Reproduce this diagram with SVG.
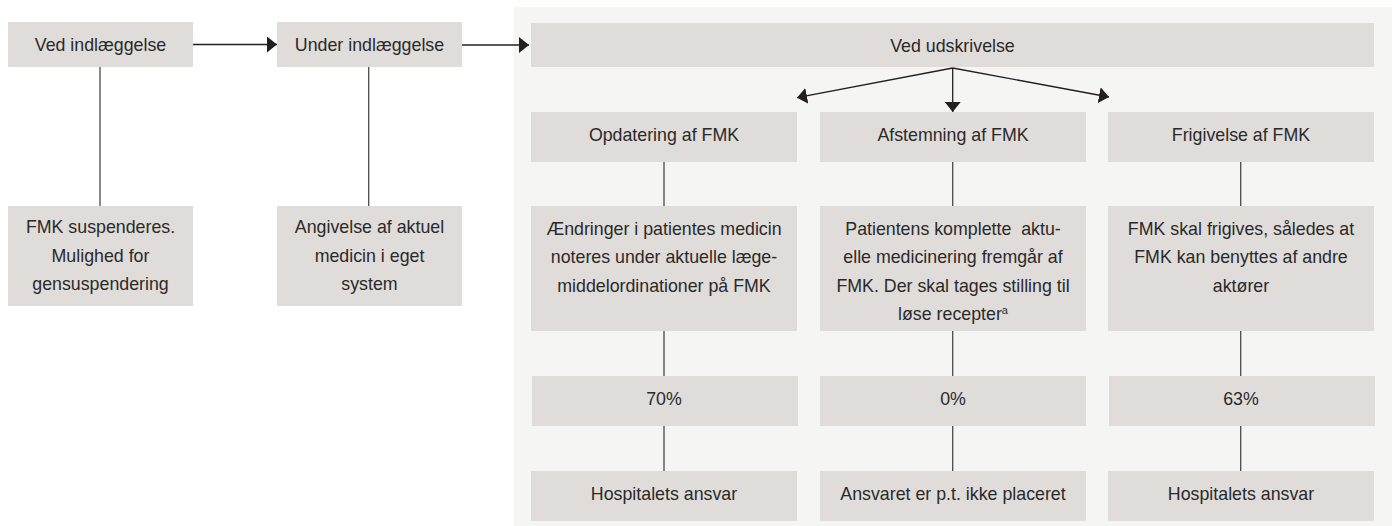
<svg xmlns="http://www.w3.org/2000/svg" width="1392" height="526" viewBox="0 0 1392 526">
<style>
.box{fill:#e0dcd9}
.t{font-family:"Liberation Sans",Arial,sans-serif;font-size:17.8px;fill:#2a2a2a;text-anchor:middle}
.ln{stroke:#4a4a4a;stroke-width:1.3;fill:none}
.ar{stroke:#231f20;stroke-width:1.3;fill:none;marker-end:url(#ah)}
</style>
<defs>
<marker id="ah" viewBox="0 0 10 16" markerUnits="userSpaceOnUse" markerWidth="10" markerHeight="16" refX="10" refY="8" orient="auto">
<path d="M0,0 L10,8 L0,16 z" fill="#231f20"/>
</marker>
</defs>
<rect x="0" y="0" width="1392" height="526" fill="#ffffff"/>
<rect id="panel" x="514" y="7" width="878" height="519" fill="#f5f5f4"/>

<g id="connectors">
<line class="ar" x1="193" y1="44.5" x2="277" y2="44.5"/>
<line class="ar" x1="462" y1="45" x2="529" y2="45"/>
<line class="ar" x1="952.7" y1="68" x2="797" y2="97.7"/>
<line class="ar" x1="952.7" y1="68" x2="952.7" y2="112"/>
<line class="ar" x1="952.7" y1="68" x2="1109" y2="97"/>
<line class="ln" x1="100" y1="67" x2="100" y2="206"/>
<line class="ln" x1="368.7" y1="67" x2="368.7" y2="206"/>
<line class="ln" x1="664" y1="162" x2="664" y2="206"/>
<line class="ln" x1="664" y1="331" x2="664" y2="376"/>
<line class="ln" x1="664" y1="426" x2="664" y2="471"/>
<line class="ln" x1="952.7" y1="162" x2="952.7" y2="206"/>
<line class="ln" x1="952.7" y1="331" x2="952.7" y2="376"/>
<line class="ln" x1="952.7" y1="426" x2="952.7" y2="471"/>
<line class="ln" x1="1240.7" y1="162" x2="1240.7" y2="206"/>
<line class="ln" x1="1240.7" y1="331" x2="1240.7" y2="376"/>
<line class="ln" x1="1240.7" y1="426" x2="1240.7" y2="471"/>
</g>

<g id="ved-indlaeggelse">
<rect class="box" x="8" y="22" width="185" height="45"/>
<text class="t" x="100.5" y="51">Ved indlæggelse</text>
</g>
<g id="under-indlaeggelse">
<rect class="box" x="277" y="22" width="185" height="45"/>
<text class="t" x="369.5" y="51">Under indlæggelse</text>
</g>
<g id="ved-udskrivelse">
<rect class="box" x="531" y="23" width="843" height="44"/>
<text class="t" x="952.5" y="52">Ved udskrivelse</text>
</g>
<g id="fmk-suspenderes">
<rect class="box" x="8" y="206" width="185" height="100"/>
<text class="t" x="100.5" y="233">FMK suspenderes.</text>
<text class="t" x="100.5" y="262">Mulighed for</text>
<text class="t" x="100.5" y="290">gensuspendering</text>
</g>
<g id="angivelse">
<rect class="box" x="277" y="206" width="185" height="100"/>
<text class="t" x="369.5" y="233">Angivelse af aktuel</text>
<text class="t" x="369.5" y="262">medicin i eget</text>
<text class="t" x="369.5" y="290">system</text>
</g>

<g id="opdatering">
<rect class="box" x="531" y="112" width="266" height="50"/>
<text class="t" x="664" y="141">Opdatering af FMK</text>
</g>
<g id="afstemning">
<rect class="box" x="820" y="112" width="266" height="50"/>
<text class="t" x="953" y="141">Afstemning af FMK</text>
</g>
<g id="frigivelse">
<rect class="box" x="1108" y="112" width="266" height="50"/>
<text class="t" x="1241" y="141">Frigivelse af FMK</text>
</g>

<g id="opdatering-tekst">
<rect class="box" x="531" y="206" width="266" height="125"/>
<text class="t" x="664" y="235">Ændringer i patientes medicin</text>
<text class="t" x="664" y="263">noteres under aktuelle læge-</text>
<text class="t" x="664" y="292">middelordinationer på FMK</text>
</g>
<g id="afstemning-tekst">
<rect class="box" x="820" y="206" width="266" height="125"/>
<text class="t" x="953" y="235" xml:space="preserve">Patientens komplette  aktu-</text>
<text class="t" x="953" y="263">elle medicinering fremgår af</text>
<text class="t" x="953" y="292">FMK. Der skal tages stilling til</text>
<text class="t" x="953" y="320">løse recepter<tspan font-size="11" dy="-6">a</tspan></text>
</g>
<g id="frigivelse-tekst">
<rect class="box" x="1108" y="206" width="266" height="125"/>
<text class="t" x="1241" y="235">FMK skal frigives, således at</text>
<text class="t" x="1241" y="263">FMK kan benyttes af andre</text>
<text class="t" x="1241" y="292">aktører</text>
</g>

<g id="pct-70">
<rect class="box" x="532" y="376" width="266" height="50"/>
<text class="t" x="664" y="405">70%</text>
</g>
<g id="pct-0">
<rect class="box" x="820" y="376" width="266" height="50"/>
<text class="t" x="953" y="405">0%</text>
</g>
<g id="pct-63">
<rect class="box" x="1109" y="376" width="266" height="50"/>
<text class="t" x="1241" y="405">63%</text>
</g>

<g id="ansvar-1">
<rect class="box" x="531" y="471" width="266" height="50"/>
<text class="t" x="664" y="500">Hospitalets ansvar</text>
</g>
<g id="ansvar-2">
<rect class="box" x="820" y="471" width="266" height="50"/>
<text class="t" x="953" y="500">Ansvaret er p.t. ikke placeret</text>
</g>
<g id="ansvar-3">
<rect class="box" x="1108" y="471" width="266" height="50"/>
<text class="t" x="1241" y="500">Hospitalets ansvar</text>
</g>
</svg>
